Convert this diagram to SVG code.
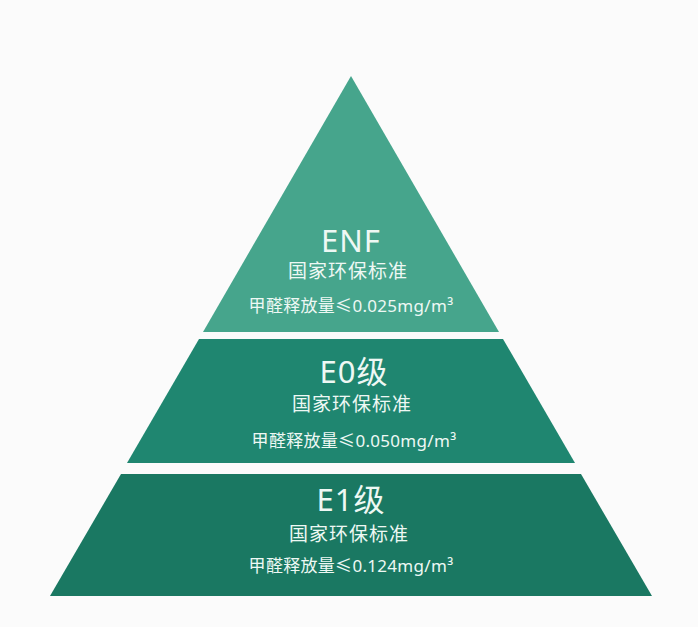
<svg xmlns="http://www.w3.org/2000/svg" width="698" height="627" viewBox="0 0 698 627">
  <style>
    text { font-family: "Noto Sans", "Noto Sans CJK SC", sans-serif; fill: #eef8f4; text-anchor: middle; }
    .t { font-size: 31px; letter-spacing: 1px; }
    .s { font-size: 19px; letter-spacing: 1px; }
    .d { font-size: 17px; letter-spacing: 0.3px; }
  </style>
  <rect width="698" height="627" fill="#fbfbfb"/>
  <g id="connectors"></g>
  <g id="enf">
    <polygon points="351,76 499,332 203,332" fill="#46a58c"/>
    <text class="t" x="351" y="252">ENF</text>
    <text class="s" x="348" y="278">国家环保标准</text>
    <text class="d" x="351" y="312">甲醛释放量≤0.025mg/m³</text>
  </g>
  <g id="e0">
    <polygon points="199,339 503,339 575,463 127,463" fill="#1f8670"/>
    <text class="t" x="354" y="383">E0级</text>
    <text class="s" x="352" y="411">国家环保标准</text>
    <text class="d" x="354" y="447">甲醛释放量≤0.050mg/m³</text>
  </g>
  <g id="e1">
    <polygon points="121,474 581,474 652,596 50,596" fill="#1a7862"/>
    <text class="t" x="351" y="511">E1级</text>
    <text class="s" x="349" y="541">国家环保标准</text>
    <text class="d" x="351" y="572">甲醛释放量≤0.124mg/m³</text>
  </g>
</svg>
